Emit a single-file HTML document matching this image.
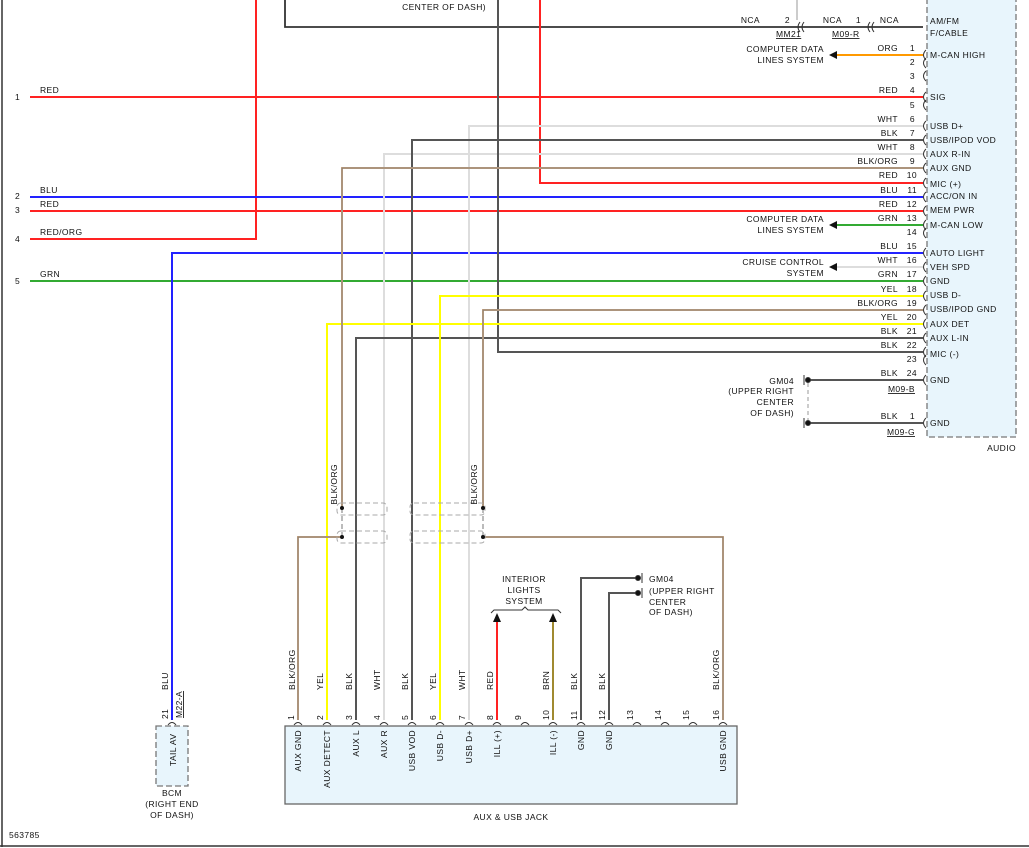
<!DOCTYPE html>
<html><head><meta charset="utf-8"><style>
html,body{margin:0;padding:0;background:#fff}
svg{display:block}
text{font-family:"Liberation Sans",Arial,sans-serif;font-size:8.5px;fill:#111;letter-spacing:0.4px}
.r{text-anchor:end}
.m{text-anchor:middle}
</style></head><body>
<svg width="1029" height="848" viewBox="0 0 1029 848" xmlns="http://www.w3.org/2000/svg">
<rect width="1029" height="848" fill="#fff"/>
<line x1="2" y1="0" x2="2" y2="847" stroke="#333" stroke-width="1.5"/>
<line x1="0" y1="846" x2="1029" y2="846" stroke="#333" stroke-width="1.5"/>

<rect x="927" y="-5" width="89" height="442" fill="#e8f5fc" stroke="#777" stroke-dasharray="6,3" stroke-width="1.3"/>
<text x="1016" y="451" class="r">AUDIO</text>

<polyline points="285,0 285,27 923,27" fill="none" stroke="#333" stroke-width="1.8"/>
<text x="486" y="10" class="r">CENTER OF DASH)</text>
<line x1="797" y1="0" x2="797" y2="20" stroke="#999" stroke-width="1"/>
<text x="760" y="23" class="r">NCA</text><text x="790" y="23" class="r">2</text>
<text x="842" y="23" class="r">NCA</text><text x="861" y="23" class="r">1</text>
<text x="899" y="23" class="r">NCA</text>
<text x="776" y="37" text-decoration="underline">MM21</text>
<text x="832" y="37" text-decoration="underline">M09-R</text>
<path d="M800,22 q-4,5 0,10 M804,22 q-4,5 0,10 M870,22 q-4,5 0,10 M874,22 q-4,5 0,10" fill="none" stroke="#333"/>
<text x="930" y="24">AM/FM</text><text x="930" y="36">F/CABLE</text>

<g fill="none" stroke-width="2">
<polyline points="30,97 923,97" stroke="#f22"/>
<polyline points="30,239 256,239 256,0" stroke="#f22"/>
<polyline points="540,0 540,183 923,183" stroke="#f22"/>
<polyline points="30,197 923,197" stroke="#22f"/>
<polyline points="30,211 923,211" stroke="#f22"/>
<polyline points="30,281 923,281" stroke="#3a3"/>
<polyline points="172,720 172,253 923,253" stroke="#22f"/>
<polyline points="469,720 469,126 923,126" stroke="#ddd"/>
<polyline points="384,720 384,154 923,154" stroke="#ddd"/>
<polyline points="412,720 412,140 923,140" stroke="#555"/>
<polyline points="356,720 356,338 923,338" stroke="#555"/>
<polyline points="498,0 498,352 923,352" stroke="#555"/>
<polyline points="440,720 440,296 923,296" stroke="#ff0"/>
<polyline points="327,720 327,324 923,324" stroke="#ff0"/>
<polyline points="808,380 923,380" stroke="#555"/>
<polyline points="808,423 923,423" stroke="#555"/>
<polyline points="581,720 581,578 637,578" stroke="#555"/>
<polyline points="609,720 609,593 637,593" stroke="#555"/>
<line x1="497" y1="618" x2="497" y2="720" stroke="#f22"/>
<line x1="553" y1="618" x2="553" y2="720" stroke="#a08a30"/>
<line x1="832" y1="55" x2="923" y2="55" stroke="#f90"/>
<line x1="832" y1="225" x2="923" y2="225" stroke="#3a3"/>
<line x1="832" y1="267" x2="923" y2="267" stroke="#ddd"/>
<g stroke="#e0b080" stroke-width="2">
<polyline points="342,508 342,168 923,168"/>
<polyline points="483,508 483,310 923,310"/>
<polyline points="298,720 298,537 342,537"/>
<polyline points="483,537 723,537 723,720"/>
</g>
<g stroke="#777" stroke-width="1">
<polyline points="342,508 342,168 923,168"/>
<polyline points="483,508 483,310 923,310"/>
<polyline points="298,720 298,537 342,537"/>
<polyline points="483,537 723,537 723,720"/>
</g>
</g>
<g fill="none" stroke="#aaa" stroke-dasharray="5,3" stroke-width="1">
<rect x="337" y="503" width="50" height="12" rx="4"/>
<rect x="337" y="531" width="50" height="12" rx="4"/>
<rect x="410" y="503" width="75" height="12" rx="4"/>
<rect x="410" y="531" width="75" height="12" rx="4"/>
<line x1="342" y1="508" x2="342" y2="537" stroke="#777"/>
<line x1="483" y1="508" x2="483" y2="537" stroke="#777"/>
</g>
<g fill="#111"><circle cx="342" cy="508" r="2"/><circle cx="342" cy="537" r="2"/><circle cx="483" cy="508" r="2"/><circle cx="483" cy="537" r="2"/></g>

<g fill="#111">
<polygon points="829,55 837,51 837,59"/>
<polygon points="829,225 837,221 837,229"/>
<polygon points="829,267 837,263 837,271"/>
<polygon points="497,613 493,622 501,622"/>
<polygon points="553,613 549,622 557,622"/>
</g>
<text x="824" y="52" class="r">COMPUTER DATA</text><text x="824" y="63" class="r">LINES SYSTEM</text>
<text x="824" y="222" class="r">COMPUTER DATA</text><text x="824" y="233" class="r">LINES SYSTEM</text>
<text x="824" y="265" class="r">CRUISE CONTROL</text><text x="824" y="276" class="r">SYSTEM</text>

<path fill="none" stroke="#333" stroke-width="1" d="M926,50 q-5,5 0,10 M926,58 q-5,5 0,10 M926,71 q-5,5 0,10 M926,92 q-5,5 0,10 M926,100 q-5,5 0,10 M926,121 q-5,5 0,10 M926,135 q-5,5 0,10 M926,149 q-5,5 0,10 M926,163 q-5,5 0,10 M926,178 q-5,5 0,10 M926,192 q-5,5 0,10 M926,206 q-5,5 0,10 M926,220 q-5,5 0,10 M926,228 q-5,5 0,10 M926,248 q-5,5 0,10 M926,262 q-5,5 0,10 M926,276 q-5,5 0,10 M926,291 q-5,5 0,10 M926,305 q-5,5 0,10 M926,319 q-5,5 0,10 M926,333 q-5,5 0,10 M926,347 q-5,5 0,10 M926,355 q-5,5 0,10 M926,375 q-5,5 0,10 M926,418 q-5,5 0,10"/>

<g>
<text x="898" y="51" class="r">ORG</text><text x="915" y="51" class="r">1</text>
<text x="915" y="65" class="r">2</text><text x="915" y="79" class="r">3</text>
<text x="898" y="93" class="r">RED</text><text x="915" y="93" class="r">4</text>
<text x="915" y="108" class="r">5</text>
<text x="898" y="122" class="r">WHT</text><text x="915" y="122" class="r">6</text>
<text x="898" y="136" class="r">BLK</text><text x="915" y="136" class="r">7</text>
<text x="898" y="150" class="r">WHT</text><text x="915" y="150" class="r">8</text>
<text x="898" y="164" class="r">BLK/ORG</text><text x="915" y="164" class="r">9</text>
<text x="898" y="178" class="r">RED</text><text x="917" y="178" class="r">10</text>
<text x="898" y="193" class="r">BLU</text><text x="917" y="193" class="r">11</text>
<text x="898" y="207" class="r">RED</text><text x="917" y="207" class="r">12</text>
<text x="898" y="221" class="r">GRN</text><text x="917" y="221" class="r">13</text>
<text x="917" y="235" class="r">14</text>
<text x="898" y="249" class="r">BLU</text><text x="917" y="249" class="r">15</text>
<text x="898" y="263" class="r">WHT</text><text x="917" y="263" class="r">16</text>
<text x="898" y="277" class="r">GRN</text><text x="917" y="277" class="r">17</text>
<text x="898" y="292" class="r">YEL</text><text x="917" y="292" class="r">18</text>
<text x="898" y="306" class="r">BLK/ORG</text><text x="917" y="306" class="r">19</text>
<text x="898" y="320" class="r">YEL</text><text x="917" y="320" class="r">20</text>
<text x="898" y="334" class="r">BLK</text><text x="917" y="334" class="r">21</text>
<text x="898" y="348" class="r">BLK</text><text x="917" y="348" class="r">22</text>
<text x="917" y="362" class="r">23</text>
<text x="898" y="376" class="r">BLK</text><text x="917" y="376" class="r">24</text>
<text x="915" y="392" class="r" text-decoration="underline">M09-B</text>
<text x="898" y="419" class="r">BLK</text><text x="915" y="419" class="r">1</text>
<text x="915" y="435" class="r" text-decoration="underline">M09-G</text>
<text x="930" y="58">M-CAN HIGH</text>
<text x="930" y="100">SIG</text>
<text x="930" y="129">USB D+</text>
<text x="930" y="143">USB/IPOD VOD</text>
<text x="930" y="157">AUX R-IN</text>
<text x="930" y="171">AUX GND</text>
<text x="930" y="187">MIC (+)</text>
<text x="930" y="199">ACC/ON IN</text>
<text x="930" y="213">MEM PWR</text>
<text x="930" y="228">M-CAN LOW</text>
<text x="930" y="256">AUTO LIGHT</text>
<text x="930" y="270">VEH SPD</text>
<text x="930" y="284">GND</text>
<text x="930" y="298">USB D-</text>
<text x="930" y="312">USB/IPOD GND</text>
<text x="930" y="327">AUX DET</text>
<text x="930" y="341">AUX L-IN</text>
<text x="930" y="357">MIC (-)</text>
<text x="930" y="383">GND</text>
<text x="930" y="426">GND</text>
</g>

<g stroke="#333" fill="#111">
<circle cx="808" cy="380" r="2.5"/><circle cx="808" cy="423" r="2.5"/>
<line x1="804" y1="375" x2="804" y2="385"/><line x1="804" y1="418" x2="804" y2="428"/>
<line x1="808" y1="383" x2="808" y2="420" stroke="#999" stroke-dasharray="4,3"/>
</g>
<text x="794" y="384" class="r">GM04</text>
<text x="794" y="394" class="r">(UPPER RIGHT</text>
<text x="794" y="405" class="r">CENTER</text>
<text x="794" y="416" class="r">OF DASH)</text>

<text x="15" y="100">1</text><text x="40" y="93">RED</text>
<text x="15" y="199">2</text><text x="40" y="193">BLU</text>
<text x="15" y="213">3</text><text x="40" y="207">RED</text>
<text x="15" y="242">4</text><text x="40" y="235">RED/ORG</text>
<text x="15" y="284">5</text><text x="40" y="277">GRN</text>

<g stroke="#333" fill="#111">
<circle cx="638" cy="578" r="2.5"/><circle cx="638" cy="593" r="2.5"/>
<line x1="642" y1="573" x2="642" y2="583"/><line x1="642" y1="588" x2="642" y2="598"/>
</g>
<text x="649" y="582">GM04</text>
<text x="649" y="594">(UPPER RIGHT</text>
<text x="649" y="605">CENTER</text>
<text x="649" y="615">OF DASH)</text>
<text x="524" y="582" class="m">INTERIOR</text>
<text x="524" y="593" class="m">LIGHTS</text>
<text x="524" y="604" class="m">SYSTEM</text>
<path d="M491,613 l3,-3 h28 l3,-3 l3,3 h30 l3,3" fill="none" stroke="#333"/>

<rect x="156" y="726" width="32" height="60" fill="#e8f5fc" stroke="#777" stroke-dasharray="6,3" stroke-width="1.3"/>
<text transform="translate(176,766) rotate(-90)">TAIL AV</text>
<text transform="translate(168,690) rotate(-90)">BLU</text>
<text transform="translate(168,719) rotate(-90)">21</text>
<text transform="translate(182,718) rotate(-90)" text-decoration="underline">M22-A</text>
<path d="M168,725 q4,-5 8,0" fill="none" stroke="#333"/>
<text x="172" y="796" class="m">BCM</text>
<text x="172" y="807" class="m">(RIGHT END</text>
<text x="172" y="818" class="m">OF DASH)</text>

<rect x="285" y="726" width="452" height="78" fill="#e8f5fc" stroke="#666" stroke-width="1.3"/>
<text x="511" y="820" class="m">AUX &amp; USB JACK</text>
<text x="9" y="838">563785</text>
<path fill="none" stroke="#333" d="M294,725 q4,-5 8,0 M323,725 q4,-5 8,0 M352,725 q4,-5 8,0 M380,725 q4,-5 8,0 M408,725 q4,-5 8,0 M436,725 q4,-5 8,0 M465,725 q4,-5 8,0 M493,725 q4,-5 8,0 M521,725 q4,-5 8,0 M549,725 q4,-5 8,0 M577,725 q4,-5 8,0 M605,725 q4,-5 8,0 M633,725 q4,-5 8,0 M661,725 q4,-5 8,0 M689,725 q4,-5 8,0 M719,725 q4,-5 8,0"/>
<g>
<text transform="translate(295,690) rotate(-90)">BLK/ORG</text>
<text transform="translate(323,690) rotate(-90)">YEL</text>
<text transform="translate(352,690) rotate(-90)">BLK</text>
<text transform="translate(380,690) rotate(-90)">WHT</text>
<text transform="translate(408,690) rotate(-90)">BLK</text>
<text transform="translate(436,690) rotate(-90)">YEL</text>
<text transform="translate(465,690) rotate(-90)">WHT</text>
<text transform="translate(493,690) rotate(-90)">RED</text>
<text transform="translate(549,690) rotate(-90)">BRN</text>
<text transform="translate(577,690) rotate(-90)">BLK</text>
<text transform="translate(605,690) rotate(-90)">BLK</text>
<text transform="translate(719,690) rotate(-90)">BLK/ORG</text>
<text transform="translate(477,464) rotate(-90)" class="r">BLK/ORG</text>
<text transform="translate(337,464) rotate(-90)" class="r">BLK/ORG</text>
</g>
<g style="font-size:8px">
<text transform="translate(294,720) rotate(-90)">1</text>
<text transform="translate(323,720) rotate(-90)">2</text>
<text transform="translate(352,720) rotate(-90)">3</text>
<text transform="translate(380,720) rotate(-90)">4</text>
<text transform="translate(408,720) rotate(-90)">5</text>
<text transform="translate(436,720) rotate(-90)">6</text>
<text transform="translate(465,720) rotate(-90)">7</text>
<text transform="translate(493,720) rotate(-90)">8</text>
<text transform="translate(521,720) rotate(-90)">9</text>
<text transform="translate(549,720) rotate(-90)">10</text>
<text transform="translate(577,720) rotate(-90)">11</text>
<text transform="translate(605,720) rotate(-90)">12</text>
<text transform="translate(633,720) rotate(-90)">13</text>
<text transform="translate(661,720) rotate(-90)">14</text>
<text transform="translate(689,720) rotate(-90)">15</text>
<text transform="translate(719,720) rotate(-90)">16</text>
</g>
<g>
<text transform="translate(301,730) rotate(-90)" class="r">AUX GND</text>
<text transform="translate(330,730) rotate(-90)" class="r">AUX DETECT</text>
<text transform="translate(359,730) rotate(-90)" class="r">AUX L</text>
<text transform="translate(387,730) rotate(-90)" class="r">AUX R</text>
<text transform="translate(415,730) rotate(-90)" class="r">USB VOD</text>
<text transform="translate(443,730) rotate(-90)" class="r">USB D-</text>
<text transform="translate(472,730) rotate(-90)" class="r">USB D+</text>
<text transform="translate(500,730) rotate(-90)" class="r">ILL (+)</text>
<text transform="translate(556,730) rotate(-90)" class="r">ILL (-)</text>
<text transform="translate(584,730) rotate(-90)" class="r">GND</text>
<text transform="translate(612,730) rotate(-90)" class="r">GND</text>
<text transform="translate(726,730) rotate(-90)" class="r">USB GND</text>
</g>
</svg>
</body></html>
